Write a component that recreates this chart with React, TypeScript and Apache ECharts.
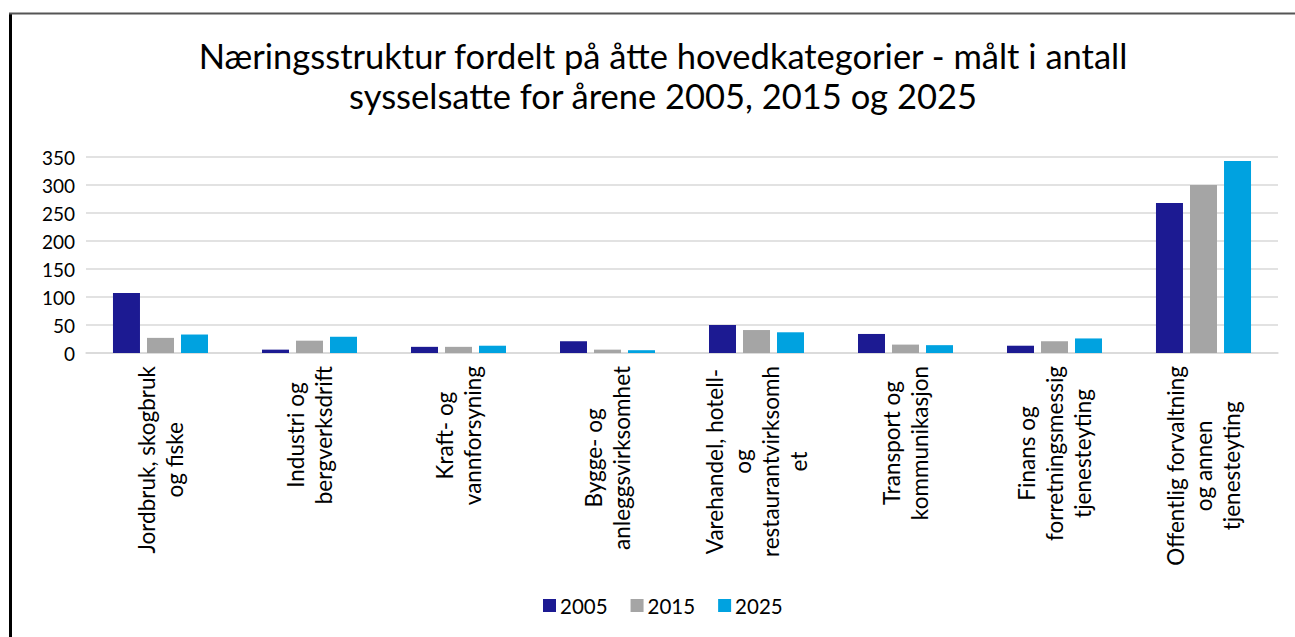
import React, { useEffect, useRef } from "react";
import * as echarts from "echarts";

const categories = [
  "Jordbruk, skogbruk\nog fiske",
  "Industri og\nbergverksdrift",
  "Kraft- og\nvannforsyning",
  "Bygge- og\nanleggsvirksomhet",
  "Varehandel, hotell-\nog\nrestaurantvirksomh\net",
  "Transport og\nkommunikasjon",
  "Finans og\nforretningsmessig\ntjenesteyting",
  "Offentlig forvaltning\nog annen\ntjenesteyting",
];
const seriesNames = ["2005", "2015", "2025"];
const values2005 = [107, 6, 11, 21, 50, 34, 13, 268];
const values2015 = [27, 22, 11, 6, 41, 15, 21, 300];
const values2025 = [33, 29, 13, 5, 37, 14, 26, 343];
const colors = ["#1c1a92", "#a5a5a5", "#00a2e0"];
const yTicks = { min: 0, max: 350, interval: 50 };

const FONT = "Lato, 'Open Sans', sans-serif";

export default function App() {
  const ref = useRef<HTMLDivElement>(null);
  useEffect(() => {
    if (!ref.current) return;
    const chart = echarts.init(ref.current, undefined, { renderer: "svg" });
    const data = [values2005, values2015, values2025];
    chart.setOption({
      animation: false,
      backgroundColor: "#ffffff",
      textStyle: { fontFamily: FONT, color: "#000" },
      title: {
        text: "Næringsstruktur fordelt på åtte hovedkategorier - målt i antall\nsysselsatte for årene 2005, 2015 og 2025",
        left: 658,
        top: 30,
        textAlign: "center",
        textStyle: {
          fontFamily: FONT,
          fontSize: 34.5,
          fontWeight: "normal",
          color: "#000",
          lineHeight: 40,
        },
      },
      legend: {
        data: seriesNames,
        bottom: 16,
        left: 538,
        icon: "rect",
        itemWidth: 13,
        itemHeight: 13,
        itemGap: 23,
        textStyle: { fontFamily: FONT, fontSize: 20.5, color: "#000", padding: [0, 0, 0, -1] },
      },
      grid: { left: 86, right: 17, top: 157, bottom: 284, containLabel: false },
      xAxis: {
        type: "category",
        data: categories,
        axisLine: { show: true, lineStyle: { color: "#d9d9d9", width: 1.5 } },
        axisTick: { show: false },
        axisLabel: {
          rotate: 90,
          interval: 0,
          margin: 13,
          formatter: (v: string) => v.split("\n").map((l) => `{c|${l}}`).join("\n"),
          rich: {
            c: { align: "center", fontFamily: FONT, fontSize: 22.5, lineHeight: 28, color: "#000" },
          },
        },
      },
      yAxis: {
        type: "value",
        min: yTicks.min,
        max: yTicks.max,
        interval: yTicks.interval,
        axisLine: { show: false },
        axisTick: { show: false },
        splitLine: { lineStyle: { color: "#d9d9d9", width: 1.5 } },
        axisLabel: { fontFamily: FONT, fontSize: 19, color: "#000", margin: 11 },
      },
      series: seriesNames.map((name, i) => ({
        name,
        type: "bar",
        data: data[i],
        barWidth: 27,
        barGap: "26%",
        itemStyle: { color: colors[i] },
      })),
      graphic: [
        { type: "line", shape: { x1: 10.5, y1: 13, x2: 10.5, y2: 637 }, style: { stroke: "#000", lineWidth: 3 } },
        { type: "line", shape: { x1: 9, y1: 13.5, x2: 1295, y2: 13.5 }, style: { stroke: "#555", lineWidth: 2 } },
      ],
    });
    return () => chart.dispose();
  }, []);
  return (
    <div
      ref={ref}
      style={{ position: "absolute", left: 0, top: 0, width: 1295, height: 637 }}
    />
  );
}
